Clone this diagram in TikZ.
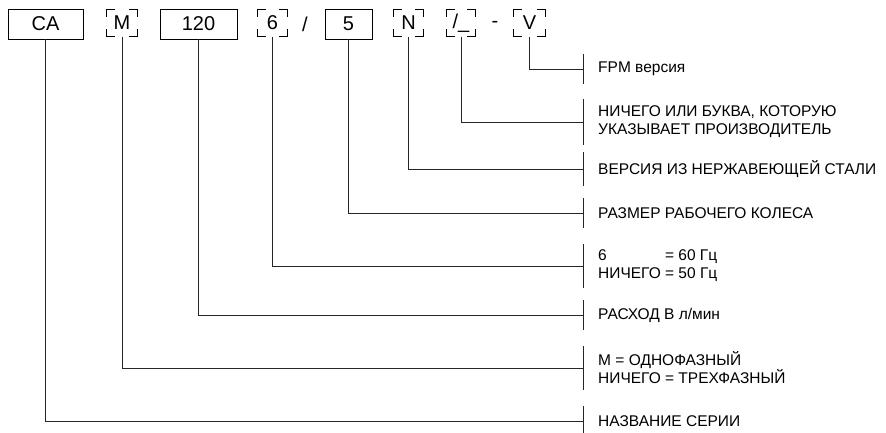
\documentclass[tikz,border=0pt]{standalone}
\usepackage{fontspec}
\setmainfont{Liberation Sans}
\usepackage{calc}
\usetikzlibrary{positioning}

\begin{document}
\begin{tikzpicture}[x=1pt,y=-1pt]

% Stili
\tikzset{
  codice/.style={draw, line width=0.8pt, minimum height=30pt, inner sep=0pt, font=\fontsize{20}{20}\selectfont},
  opzione/.style={minimum width=30pt, minimum height=27pt, inner sep=0pt, font=\fontsize{20}{20}\selectfont,
    append after command={\pgfextra{\let\optnode\tikzlastnode
      \draw[line width=0.8pt]
        ([xshift=8pt]\optnode.north west) -- (\optnode.north west) -- ([yshift=-8pt]\optnode.north west)
        ([xshift=-8pt]\optnode.north east) -- (\optnode.north east) -- ([yshift=-8pt]\optnode.north east)
        ([xshift=8pt]\optnode.south west) -- (\optnode.south west) -- ([yshift=8pt]\optnode.south west)
        ([xshift=-8pt]\optnode.south east) -- (\optnode.south east) -- ([yshift=8pt]\optnode.south east);
    }}},
  segno/.style={inner sep=0pt, font=\fontsize{20}{20}\selectfont},
  linea/.style={line width=0.75pt, draw=black!85},
  testo/.style={inner sep=0pt, anchor=west, align=left, font=\fontsize{15.5}{18}\selectfont},
}

% Margini
\useasboundingbox (0,0) rectangle (886,433);

% Ascissa delle tacche
\def\xt{583}

% Codice
\node[codice, minimum width=75pt] (ca) at (45.5,24) {CA};
\node[opzione] (mono) at (122,23) {M};
\node[codice, minimum width=77pt] (flow) at (198.5,24) {120};
\node[opzione, minimum width=29pt] (freq) at (272.5,23) {6};
\node[segno] (barra) at (305,24) {/};
\node[codice, minimum width=47pt] (imp) at (348.5,24) {5};
\node[opzione, minimum width=29pt] (inox) at (408.5,23) {N};
\node[opzione, minimum width=28pt] (mfr) at (461,23) {/\_};
\node[segno] (trattino) at (495,24) {-};
\node[opzione, minimum width=31pt] (fpm) at (529.5,23) {V};

% Tacche
\coordinate (kFpm) at (\xt,69);
\coordinate (kMfr) at (\xt,122);
\coordinate (kInox) at (\xt,169);
\coordinate (kImp) at (\xt,213);
\coordinate (kFreq) at (\xt,266);
\coordinate (kFlow) at (\xt,315);
\coordinate (kMono) at (\xt,368);
\coordinate (kCa) at (\xt,421);

\draw[linea] ([yshift=15pt]kFpm) -- ([yshift=-15pt]kFpm);
\draw[linea] ([yshift=23pt]kMfr) -- ([yshift=-23pt]kMfr);
\draw[linea] ([yshift=17pt]kInox) -- ([yshift=-17pt]kInox);
\draw[linea] ([yshift=15pt]kImp) -- ([yshift=-15pt]kImp);
\draw[linea] ([yshift=22pt]kFreq) -- ([yshift=-22pt]kFreq);
\draw[linea] ([yshift=15pt]kFlow) -- ([yshift=-15pt]kFlow);
\draw[linea] ([yshift=22pt]kMono) -- ([yshift=-22pt]kMono);
\draw[linea] ([yshift=15pt]kCa) -- ([yshift=-15pt]kCa);

% Collegamenti
\draw[linea] (fpm.south) |- (kFpm);
\draw[linea] (mfr.south) |- (kMfr);
\draw[linea] (inox.south) |- (kInox);
\draw[linea] (imp.south) |- (kImp);
\draw[linea] (freq.south) |- (kFreq);
\draw[linea] (flow.south) |- (kFlow);
\draw[linea] (mono.south) |- (kMono);
\draw[linea] (ca.south) |- (kCa);

% Descrizioni
\node[testo, right=15pt of kFpm] (tFpm) {FPM версия};
\node[testo, right=15pt of kMfr] (tMfr) {НИЧЕГО ИЛИ БУКВА, КОТОРУЮ\\УКАЗЫВАЕТ ПРОИЗВОДИТЕЛЬ};
\node[testo, right=15pt of kInox] (tInox) {ВЕРСИЯ ИЗ НЕРЖАВЕЮЩЕЙ СТАЛИ};
\node[testo, right=15pt of kImp] (tImp) {РАЗМЕР РАБОЧЕГО КОЛЕСА};
\node[testo, right=15pt of kFreq] (tFreq) {\makebox[\widthof{НИЧЕГО }][l]{6}= 60 Гц\\НИЧЕГО = 50 Гц};
\node[testo, right=15pt of kFlow] (tFlow) {РАСХОД В л/мин};
\node[testo, right=15pt of kMono] (tMono) {М = ОДНОФАЗНЫЙ\\НИЧЕГО = ТРЕХФАЗНЫЙ};
\node[testo, right=15pt of kCa] (tCa) {НАЗВАНИЕ СЕРИИ};

\end{tikzpicture}
\end{document}
